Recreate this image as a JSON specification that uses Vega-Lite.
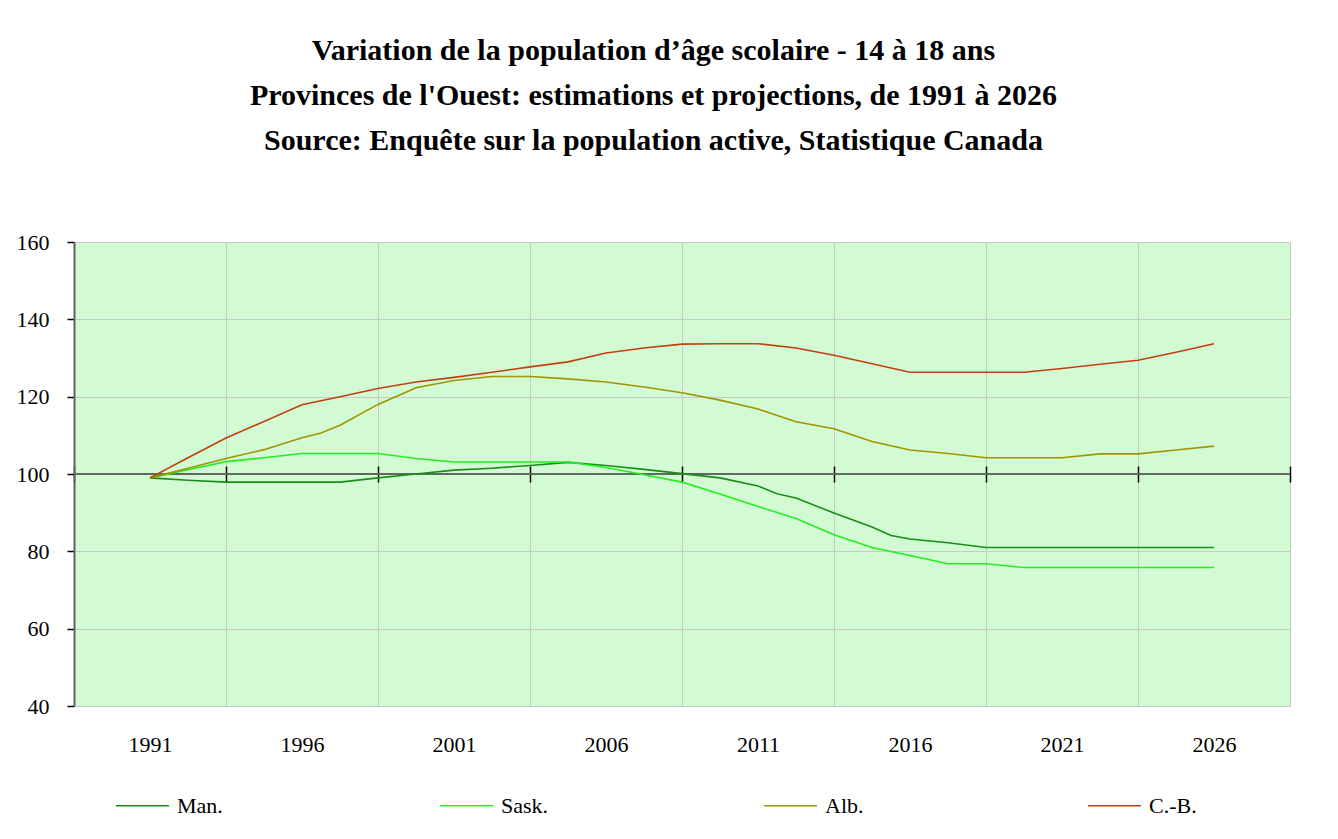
{
  "$schema": "https://vega.github.io/schema/vega-lite/v6.json",
  "width": 1216,
  "height": 464,
  "autosize": {"type": "none"},
  "padding": {"left": 74, "top": 242, "right": 48, "bottom": 133},
  "background": "white",
  "title": {
    "text": ["Variation de la population d’âge scolaire - 14 à 18 ans", "Provinces de l'Ouest: estimations et projections, de 1991 à 2026", "Source: Enquête sur la population active, Statistique Canada"],
    "font": "Liberation Serif",
    "fontSize": 30,
    "fontWeight": "bold",
    "color": "#000000",
    "lineHeight": 45,
    "anchor": "middle",
    "frame": "bounds",
    "offset": 75
  },
  "config": {
    "view": {"fill": "#d3fbd3", "stroke": "#c8c8c8", "strokeWidth": 1},
    "title": {"font": "Liberation Serif", "fontWeight": "bold"},
    "axis": {"labelFont": "Liberation Serif", "labelFontSize": 22, "labelColor": "#000000", "titleFont": "Liberation Serif"},
    "axisY": {"labelFont": "Liberation Serif", "labelFontSize": 22},
    "axisLeft": {"labelFont": "Liberation Serif", "labelFontSize": 22},
    "legend": {"labelFont": "Liberation Serif"}
  },
  "data": {
    "values": [
      {"annee": 1991, "prov": "Man.", "v": 99.0},
      {"annee": 1992.25, "prov": "Man.", "v": 98.4},
      {"annee": 1993.5, "prov": "Man.", "v": 97.9},
      {"annee": 1994.75, "prov": "Man.", "v": 97.9},
      {"annee": 1996, "prov": "Man.", "v": 97.9},
      {"annee": 1997.25, "prov": "Man.", "v": 97.9},
      {"annee": 1998.5, "prov": "Man.", "v": 99.0},
      {"annee": 1999.75, "prov": "Man.", "v": 100.0},
      {"annee": 2001, "prov": "Man.", "v": 101.0},
      {"annee": 2002.25, "prov": "Man.", "v": 101.5},
      {"annee": 2003.5, "prov": "Man.", "v": 102.2},
      {"annee": 2004.75, "prov": "Man.", "v": 103.0},
      {"annee": 2006, "prov": "Man.", "v": 102.2},
      {"annee": 2007.25, "prov": "Man.", "v": 101.2},
      {"annee": 2008.5, "prov": "Man.", "v": 100.1},
      {"annee": 2009.75, "prov": "Man.", "v": 99.0},
      {"annee": 2011, "prov": "Man.", "v": 96.9},
      {"annee": 2011.625, "prov": "Man.", "v": 94.9},
      {"annee": 2012.25, "prov": "Man.", "v": 93.8},
      {"annee": 2013.5, "prov": "Man.", "v": 89.9},
      {"annee": 2014.75, "prov": "Man.", "v": 86.3},
      {"annee": 2015.375, "prov": "Man.", "v": 84.1},
      {"annee": 2016, "prov": "Man.", "v": 83.2},
      {"annee": 2017.25, "prov": "Man.", "v": 82.2},
      {"annee": 2018.5, "prov": "Man.", "v": 81.0},
      {"annee": 2019.75, "prov": "Man.", "v": 81.0},
      {"annee": 2021, "prov": "Man.", "v": 81.0},
      {"annee": 2022.25, "prov": "Man.", "v": 81.0},
      {"annee": 2023.5, "prov": "Man.", "v": 81.0},
      {"annee": 2024.75, "prov": "Man.", "v": 81.0},
      {"annee": 2026, "prov": "Man.", "v": 81.0},

      {"annee": 1991, "prov": "Sask.", "v": 99.0},
      {"annee": 1992.25, "prov": "Sask.", "v": 101.1},
      {"annee": 1993.5, "prov": "Sask.", "v": 103.2},
      {"annee": 1994.75, "prov": "Sask.", "v": 104.2},
      {"annee": 1996, "prov": "Sask.", "v": 105.3},
      {"annee": 1997.25, "prov": "Sask.", "v": 105.3},
      {"annee": 1998.5, "prov": "Sask.", "v": 105.3},
      {"annee": 1999.75, "prov": "Sask.", "v": 104.0},
      {"annee": 2001, "prov": "Sask.", "v": 103.1},
      {"annee": 2002.25, "prov": "Sask.", "v": 103.1},
      {"annee": 2003.5, "prov": "Sask.", "v": 103.1},
      {"annee": 2004.75, "prov": "Sask.", "v": 103.1},
      {"annee": 2006, "prov": "Sask.", "v": 101.7},
      {"annee": 2007.25, "prov": "Sask.", "v": 99.8},
      {"annee": 2008.5, "prov": "Sask.", "v": 97.9},
      {"annee": 2009.75, "prov": "Sask.", "v": 94.8},
      {"annee": 2011, "prov": "Sask.", "v": 91.6},
      {"annee": 2012.25, "prov": "Sask.", "v": 88.5},
      {"annee": 2013.5, "prov": "Sask.", "v": 84.3},
      {"annee": 2014.75, "prov": "Sask.", "v": 81.0},
      {"annee": 2016, "prov": "Sask.", "v": 78.9},
      {"annee": 2017.25, "prov": "Sask.", "v": 76.8},
      {"annee": 2018.5, "prov": "Sask.", "v": 76.8},
      {"annee": 2019.75, "prov": "Sask.", "v": 75.8},
      {"annee": 2021, "prov": "Sask.", "v": 75.8},
      {"annee": 2022.25, "prov": "Sask.", "v": 75.8},
      {"annee": 2023.5, "prov": "Sask.", "v": 75.8},
      {"annee": 2024.75, "prov": "Sask.", "v": 75.8},
      {"annee": 2026, "prov": "Sask.", "v": 75.8},

      {"annee": 1991, "prov": "Alb.", "v": 99.0},
      {"annee": 1992.25, "prov": "Alb.", "v": 101.5},
      {"annee": 1993.5, "prov": "Alb.", "v": 104.0},
      {"annee": 1994.75, "prov": "Alb.", "v": 106.3},
      {"annee": 1996, "prov": "Alb.", "v": 109.4},
      {"annee": 1996.625, "prov": "Alb.", "v": 110.6},
      {"annee": 1997.25, "prov": "Alb.", "v": 112.6},
      {"annee": 1998.5, "prov": "Alb.", "v": 118.0},
      {"annee": 1999.75, "prov": "Alb.", "v": 122.3},
      {"annee": 2001, "prov": "Alb.", "v": 124.2},
      {"annee": 2002.25, "prov": "Alb.", "v": 125.2},
      {"annee": 2003.5, "prov": "Alb.", "v": 125.2},
      {"annee": 2004.75, "prov": "Alb.", "v": 124.6},
      {"annee": 2006, "prov": "Alb.", "v": 123.8},
      {"annee": 2007.25, "prov": "Alb.", "v": 122.5},
      {"annee": 2008.5, "prov": "Alb.", "v": 121.0},
      {"annee": 2009.75, "prov": "Alb.", "v": 119.1},
      {"annee": 2011, "prov": "Alb.", "v": 116.8},
      {"annee": 2012.25, "prov": "Alb.", "v": 113.5},
      {"annee": 2013.5, "prov": "Alb.", "v": 111.7},
      {"annee": 2014.75, "prov": "Alb.", "v": 108.4},
      {"annee": 2016, "prov": "Alb.", "v": 106.2},
      {"annee": 2017.25, "prov": "Alb.", "v": 105.3},
      {"annee": 2018.5, "prov": "Alb.", "v": 104.2},
      {"annee": 2019.75, "prov": "Alb.", "v": 104.2},
      {"annee": 2021, "prov": "Alb.", "v": 104.2},
      {"annee": 2022.25, "prov": "Alb.", "v": 105.2},
      {"annee": 2023.5, "prov": "Alb.", "v": 105.2},
      {"annee": 2024.75, "prov": "Alb.", "v": 106.2},
      {"annee": 2026, "prov": "Alb.", "v": 107.2},

      {"annee": 1991, "prov": "C.-B.", "v": 99.0},
      {"annee": 1992.25, "prov": "C.-B.", "v": 104.2},
      {"annee": 1993.5, "prov": "C.-B.", "v": 109.3},
      {"annee": 1994.75, "prov": "C.-B.", "v": 113.6},
      {"annee": 1996, "prov": "C.-B.", "v": 117.9},
      {"annee": 1997.25, "prov": "C.-B.", "v": 120.0},
      {"annee": 1998.5, "prov": "C.-B.", "v": 122.1},
      {"annee": 1999.75, "prov": "C.-B.", "v": 123.8},
      {"annee": 2001, "prov": "C.-B.", "v": 125.0},
      {"annee": 2002.25, "prov": "C.-B.", "v": 126.3},
      {"annee": 2003.5, "prov": "C.-B.", "v": 127.7},
      {"annee": 2004.75, "prov": "C.-B.", "v": 129.0},
      {"annee": 2006, "prov": "C.-B.", "v": 131.3},
      {"annee": 2007.25, "prov": "C.-B.", "v": 132.6},
      {"annee": 2008.5, "prov": "C.-B.", "v": 133.6},
      {"annee": 2009.75, "prov": "C.-B.", "v": 133.7},
      {"annee": 2011, "prov": "C.-B.", "v": 133.7},
      {"annee": 2012.25, "prov": "C.-B.", "v": 132.6},
      {"annee": 2013.5, "prov": "C.-B.", "v": 130.7},
      {"annee": 2014.75, "prov": "C.-B.", "v": 128.5},
      {"annee": 2016, "prov": "C.-B.", "v": 126.3},
      {"annee": 2017.25, "prov": "C.-B.", "v": 126.3},
      {"annee": 2018.5, "prov": "C.-B.", "v": 126.3},
      {"annee": 2019.75, "prov": "C.-B.", "v": 126.3},
      {"annee": 2021, "prov": "C.-B.", "v": 127.3},
      {"annee": 2022.25, "prov": "C.-B.", "v": 128.4},
      {"annee": 2023.5, "prov": "C.-B.", "v": 129.4},
      {"annee": 2024.75, "prov": "C.-B.", "v": 131.5},
      {"annee": 2026, "prov": "C.-B.", "v": 133.7}
    ]
  },
  "layer": [
    {
      "mark": {"type": "rule", "color": "#606860", "strokeWidth": 2},
      "encoding": {
        "x": {"datum": 1988.5, "type": "quantitative", "scale": {"domain": [1988.5, 2028.5], "nice": false, "zero": false},
          "axis": {"orient": "bottom", "offset": -240, "values": [1988.5, 1993.5, 1998.5, 2003.5, 2008.5, 2013.5, 2018.5, 2023.5, 2028.5], "labels": false, "grid": false, "domain": false, "ticks": true, "tickSize": 16, "tickColor": "#000000", "tickWidth": 1.5, "title": null}},
        "x2": {"datum": 2028.5},
        "y": {"datum": 100, "type": "quantitative"}
      }
    },
    {
      "mark": {"type": "line", "strokeWidth": 1.6},
      "encoding": {
        "x": {"field": "annee", "type": "quantitative",
          "axis": {"orient": "bottom", "values": [1991, 1996, 2001, 2006, 2011, 2016, 2021, 2026], "format": "d", "title": null, "domain": false, "ticks": false, "tickSize": 0, "grid": true, "gridColor": "#c8c8c8", "gridWidth": 1, "tickOffset": 76, "labelOffset": -76, "labelPadding": 28, "labelBaseline": "top", "labelFont": "Liberation Serif", "labelFontSize": 22}},
        "y": {"field": "v", "type": "quantitative", "scale": {"domain": [40, 160], "nice": false, "zero": false},
          "axis": {"values": [40, 60, 80, 100, 120, 140, 160], "title": null, "grid": true, "gridColor": "#c8c8c8", "gridWidth": 1, "domain": true, "domainColor": "#606060", "domainWidth": 2, "ticks": true, "tickSize": 7, "tickColor": "#000000", "tickWidth": 1.5, "labelPadding": 18, "labelFont": "Liberation Serif", "labelFontSize": 22, "labelColor": "#000000"}},
        "color": {"field": "prov", "type": "nominal",
          "scale": {"domain": ["Man.", "Sask.", "Alb.", "C.-B."], "range": ["#1a8c1a", "#22ee22", "#a09400", "#c04010"]},
          "legend": {"title": null, "orient": "none", "legendX": 41, "legendY": 536, "direction": "horizontal", "columns": 4, "gridAlign": "all", "columnPadding": 212, "symbolType": "stroke", "symbolSize": 2809, "symbolStrokeWidth": 1.5, "labelFont": "Liberation Serif", "labelFontSize": 22, "labelColor": "#000000", "labelOffset": 7}}
      }
    }
  ],
  "resolve": {"axis": {"x": "independent"}}
}
